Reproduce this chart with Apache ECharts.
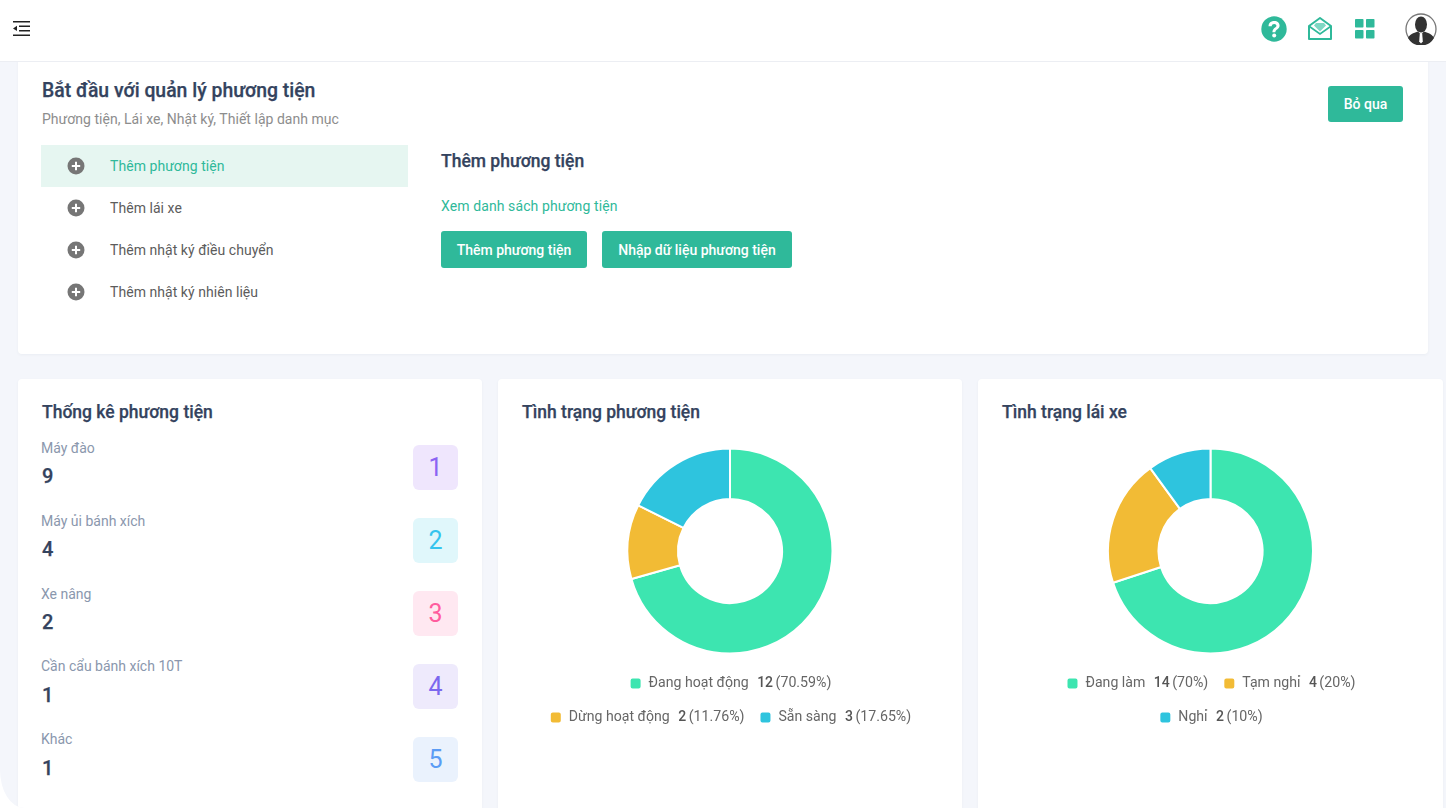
<!DOCTYPE html>
<html lang="vi"><head><meta charset="utf-8">
<script src="https://cdn.jsdelivr.net/npm/echarts@6/dist/echarts.min.js"></script>
<style>
*{box-sizing:border-box}
html,body{margin:0;width:1446px;height:808px;overflow:hidden;background:#fff}
body{font-family:Roboto,sans-serif;position:relative}
.a{position:absolute;white-space:nowrap}
#page{position:absolute;left:0;top:0;width:1446px;height:808px;background:#f4f6fb;overflow:hidden;border-bottom-left-radius:24px 38px}
#head{left:0;top:0;width:1446px;height:62px;background:#fff;border-bottom:1px solid #eceef3}
.card{position:absolute;background:#fff;border-radius:4px;box-shadow:0 1px 3px rgba(60,70,100,.05)}
.h{font-weight:500;color:#34435e;-webkit-text-stroke:.25px #34435e}
.btn{position:absolute;background:#2fb99a;color:#fff;font-size:14px;font-weight:500;border-radius:3px;display:flex;align-items:center;justify-content:center}
.chart{position:absolute}
</style></head><body>
<div id="page">
<div class="card" style="left:18px;top:50px;width:1410px;height:304px"></div>
<div class="a" id="head"></div>
<svg class="a" style="left:13px;top:21px" width="17" height="15" viewBox="0 0 17 15"><path d="M0 .7h17M6 5.2h11M6 9.7h11M0 14.2h17" stroke="#222" stroke-width="1.4"/><path d="M0 7.4l4-2.6v5.2z" fill="#222"/></svg>
<svg class="a" style="left:1261px;top:16px" width="26" height="26" viewBox="0 0 26 26"><circle cx="13" cy="13" r="12.7" fill="#2fb99a"/><path d="M7.500 10.200c0-3.300 2.400-5.300 5.700-5.300s5.400 1.900 5.400 4.600c0 3.800-4.200 3.700-4.200 6.700h-3c0-4.500 4-4.400 4-6.500 0-1-.9-1.800-2.200-1.800-1.400 0-2.400.9-2.500 2.300z" fill="#fff"/><circle cx="13.200" cy="19.400" r="2" fill="#fff"/></svg>
<svg class="a" style="left:1308px;top:17px" width="24" height="23" viewBox="0 0 24 23"><path d="M1 9L12 1l11 8v13H1z" fill="none" stroke="#2fb99a" stroke-width="2" stroke-linejoin="round"/><path d="M1.500 9.500L12 17l10.500-7.500" fill="none" stroke="#2fb99a" stroke-width="1.600"/><path d="M6 8.500l2-2.500h8l2 2.500-6 6z" fill="#7fd8c4"/></svg>
<svg class="a" style="left:1355px;top:19px" width="20" height="20" viewBox="0 0 20 20" fill="#2fb99a"><rect width="8.500" height="8.500" rx=".8"/><rect x="11" width="8.500" height="8.500" rx=".8"/><rect y="11" width="8.500" height="8.500" rx=".8"/><rect x="11" y="11" width="8.500" height="8.500" rx=".8"/></svg>
<svg class="a" style="left:1405px;top:13px" width="32" height="32" viewBox="0 0 32 32"><circle cx="16" cy="16" r="15" fill="#fff" stroke="#777" stroke-width="1.300"/><ellipse cx="16" cy="11.500" rx="6" ry="8" fill="#333"/><path d="M3 25c2.500-5 8-5.500 10-6.500l3 3 3-3c2 1 7.500 1.500 10 6.500a15 15 0 0 1-26 0z" fill="#333"/><path d="M14.800 20.500h2.400l.6 8-1.800 2-1.800-2z" fill="#fff"/></svg>

<div class="a h" style="left:42px;top:79px;font-size:19.400px;line-height:24px">Bắt đầu với quản lý phương tiện</div>
<div class="a" style="left:42px;top:110px;font-size:14px;line-height:18px;color:#8d8d8d;letter-spacing:.03px">Phương tiện, Lái xe, Nhật ký, Thiết lập danh mục</div>
<div class="btn" style="left:1328px;top:86px;width:75px;height:36px">Bỏ qua</div>
<div class="a" style="left:41px;top:145px;width:367px;height:42px;background:#e6f6f1"></div>
<div id="steps"></div>
<div class="a h" style="left:441px;top:150px;font-size:17.500px;line-height:22px">Thêm phương tiện</div>
<div class="a" style="left:441px;top:197px;font-size:14px;line-height:18px;color:#2fb99a;letter-spacing:.1px">Xem danh sách phương tiện</div>
<div class="btn" style="left:441px;top:231px;width:146px;height:37px">Thêm phương tiện</div>
<div class="btn" style="left:602px;top:231px;width:190px;height:37px">Nhập dữ liệu phương tiện</div>

<div class="card" style="left:18px;top:379px;width:464px;height:450px"></div>
<div class="card" style="left:498px;top:379px;width:464px;height:450px"></div>
<div class="card" style="left:978px;top:379px;width:465px;height:450px"></div>
<div class="a h" style="left:42px;top:401px;font-size:17.500px;line-height:22px">Thống kê phương tiện</div>
<div class="a h" style="left:522px;top:401px;font-size:17.500px;line-height:22px">Tình trạng phương tiện</div>
<div class="a h" style="left:1002px;top:401px;font-size:17.500px;line-height:22px">Tình trạng lái xe</div>
<div id="stats"></div>
<div class="chart" id="vehicleChart" style="left:498px;top:380px;width:464px;height:428px"></div>
<div class="chart" id="driverChart" style="left:978px;top:380px;width:465px;height:428px"></div>
</div>
<script>
const stepLabels = ['Thêm phương tiện','Thêm lái xe','Thêm nhật ký điều chuyển','Thêm nhật ký nhiên liệu'];
const statLabels = ['Máy đào','Máy ủi bánh xích','Xe nâng','Cần cẩu bánh xích 10T','Khác'];
const statValues = [9,4,2,1,1];
const vehicleCategories = ['Đang hoạt động','Dừng hoạt động','Sẵn sàng'];
const vehicleValues = [12,2,3];
const vehiclePercents = ['70.59%','11.76%','17.65%'];
const driverCategories = ['Đang làm','Tạm nghỉ','Nghỉ'];
const driverValues = [14,4,2];
const driverPercents = ['70%','20%','10%'];
const sliceColors = ['#3de5b0','#f2bb35','#2ec4de'];
const badgeColors = [['#efe6fd','#8b63f3'],['#e0f7fb','#35c4ee'],['#ffe8f1','#ff5c9e'],['#eeeafc','#7b68ee'],['#eaf2fd','#5b9cf5']];

document.getElementById('steps').innerHTML = stepLabels.map((t,i)=>{
  const y = 166 + i*42.100;
  return `<svg class="a" style="left:67px;top:${y-9}px" width="18" height="18" viewBox="0 0 18 18"><circle cx="9" cy="9" r="8.500" fill="#767676"/><path d="M9 4.800v8.400M4.800 9h8.400" stroke="#fff" stroke-width="2"/></svg>
  <div class="a" style="left:110px;top:${y-9}px;font-size:14px;line-height:18px;letter-spacing:.05px;color:${i?'#5c5c5c':'#2fb99a'}">${t}</div>`;
}).join('');
document.getElementById('stats').innerHTML = statLabels.map((t,i)=>{
  return `<div class="a" style="left:41px;top:${439.300+i*72.700}px;font-size:14px;line-height:18px;color:#8a97ad">${t}</div>
  <div class="a h" style="left:42px;top:${464+i*72.900}px;font-size:20px;line-height:24px">${statValues[i]}</div>
  <div class="a" style="left:413px;top:${445+i*73}px;width:45px;height:45px;border-radius:6px;background:${badgeColors[i][0]};color:${badgeColors[i][1]};font-size:25px;display:flex;align-items:center;justify-content:center">${i+1}</div>`;
}).join('');

function donut(id, names, vals, pcts, rows, gap){
  const chart = echarts.init(document.getElementById(id), null, {renderer:'canvas'});
  const rich = {
    n:{fontFamily:'Roboto',fontSize:14.100,color:'#666',padding:[0,8.500,0,2]},
    v:{fontFamily:'Roboto',fontSize:14,fontWeight:500,color:'#555',padding:[0,2.500,0,0]},
    p:{fontFamily:'Roboto',fontSize:14.200,color:'#666'}
  };
  const fmt = name => { const i = names.indexOf(name); return `{n|${name}}{v|${vals[i]}}{p|(${pcts[i]})}`; };
  chart.setOption({
    animation:false,
    color:sliceColors,
    legend:rows.map((row,r)=>({
      data:row.map(i=>names[i]), left:'center', top:291.500+r*34,
      icon:'roundRect', itemWidth:12, itemHeight:12, itemGap:gap, selectedMode:false,
      formatter:fmt, textStyle:{rich}
    })),
    series:[{
      type:'pie', radius:[52,102.500], center:['50%',171], startAngle:90, clockwise:true,
      label:{show:false}, labelLine:{show:false}, silent:true,
      itemStyle:{borderColor:'#fff',borderWidth:2},
      data:names.map((name,i)=>({name,value:vals[i]}))
    }]
  });
}
donut('vehicleChart', vehicleCategories, vehicleValues, vehiclePercents, [[0],[1,2]], 14);
donut('driverChart', driverCategories, driverValues, driverPercents, [[0,1],[2]], 14);
</script>
</body></html>
